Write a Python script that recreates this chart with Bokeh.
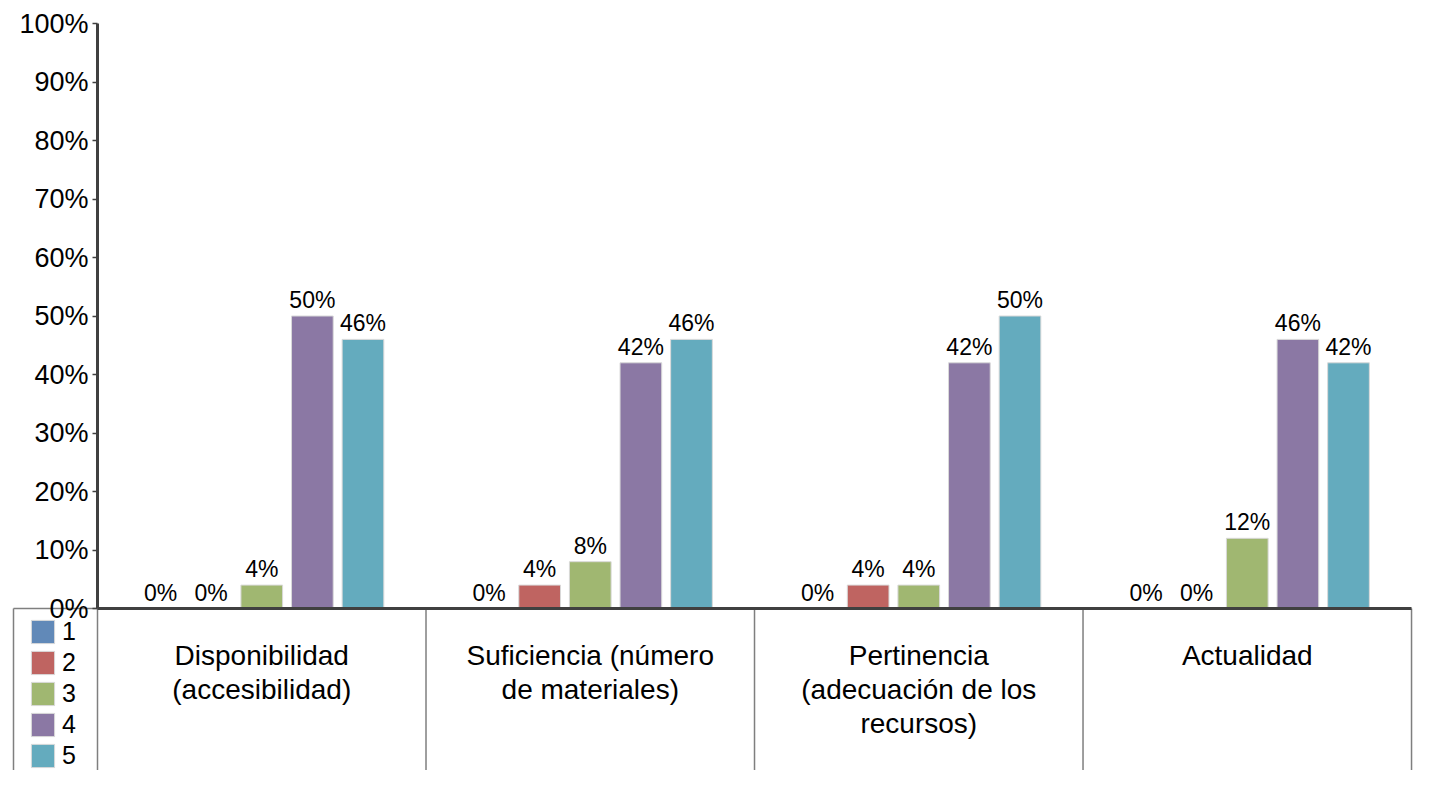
from bokeh.plotting import figure
from bokeh.models import (ColumnDataSource, Range1d, FixedTicker, NumeralTickFormatter,
                          Legend, LegendItem, LinearAxis)
from bokeh.core.properties import value
from bokeh.embed import file_html
from bokeh.resources import INLINE

categories = ["Disponibilidad\n(accesibilidad)",
              "Suficiencia (número\nde materiales)",
              "Pertinencia\n(adecuación de los\nrecursos)",
              "Actualidad"]
series_names = ["1", "2", "3", "4", "5"]
s1 = [0, 0, 0, 0]
s2 = [0, 4, 4, 0]
s3 = [4, 8, 4, 12]
s4 = [50, 42, 42, 46]
s5 = [46, 46, 50, 42]
series_values = [s1, s2, s3, s4, s5]
colors = ["#6189B8", "#BF6461", "#A0B771", "#8B78A4", "#64ABBE"]
y_ticks = [0, 10, 20, 30, 40, 50, 60, 70, 80, 90, 100]

FONT = "Liberation Sans"
W, H = 1413, 770
AX_X = 97          # screen x of the value axis
ZERO_Y = 608       # screen y of 0%
TOP_Y = 23         # screen y of 100%
CAT_W = (W - AX_X) / 4.006   # px per category
PX_Y = ZERO_Y - TOP_Y        # px per 100%

p = figure(width=W, height=H, output_backend="svg", toolbar_location=None,
           title=None, x_axis_location=None, y_axis_location=None,
           x_range=Range1d(-AX_X / CAT_W, (W - AX_X) / CAT_W),
           y_range=Range1d(-(H - ZERO_Y) / PX_Y, 1 + TOP_Y / PX_Y),
           min_border=0, min_border_left=0, min_border_right=0,
           min_border_top=0, min_border_bottom=0)
p.outline_line_color = None
p.xgrid.visible = False
p.ygrid.visible = False
p.background_fill_color = "white"
p.border_fill_color = "white"

step = 51 / 331
bw = 42 / 331
renderers = []
for k, (name, vals, col) in enumerate(zip(series_names, series_values, colors)):
    xs = [i + 0.5 + (k - 2) * step for i in range(len(categories))]
    src = ColumnDataSource(dict(x=xs, top=[v / 100 for v in vals],
                                lbl=[f"{v}%" for v in vals]))
    r = p.vbar(x="x", top="top", bottom=0, width=bw, source=src,
               fill_color=col, line_color="#d9d9d9", line_width=1)
    renderers.append((name, r))
    p.text(x="x", y="top", text="lbl", source=src, text_align="center",
           text_baseline="bottom", y_offset=-3, text_font=value(FONT),
           text_font_size="23px", text_color="black")

# table grid lines
legend_left = -(AX_X - 13) / CAT_W
vx = [legend_left] + list(range(len(categories) + 1))
seps = ColumnDataSource(dict(x=vx))
p.segment(x0="x", x1="x", y0=0, y1=-1, source=seps, line_color="#7f7f7f", line_width=1.5)
p.segment(x0=[legend_left], x1=[0], y0=[0], y1=[0], line_color="#7f7f7f", line_width=1.5)
p.segment(x0=[0], x1=[len(categories)], y0=[0], y1=[0], line_color="#404040", line_width=3)

# category labels
cat_src = ColumnDataSource(dict(x=[i + 0.5 for i in range(len(categories))],
                                y=[-(639 - ZERO_Y) / PX_Y] * len(categories), t=categories))
p.text(x="x", y="y", text="t", source=cat_src, text_align="center", text_baseline="top",
       text_font=value(FONT), text_font_size="28px", text_line_height=1.1, text_color="black")

ax = LinearAxis(fixed_location=0)
ax.bounds = (0, 1)
ax.ticker = FixedTicker(ticks=[t / 100 for t in y_ticks])
ax.formatter = NumeralTickFormatter(format="0%")
ax.minor_tick_line_color = None
ax.major_tick_out = 5
ax.major_tick_in = 0
ax.major_tick_line_color = "#404040"
ax.major_tick_line_width = 1.5
ax.axis_line_color = "#404040"
ax.axis_line_width = 3
ax.major_label_text_font = FONT
ax.major_label_text_font_size = "27px"
ax.major_label_text_color = "black"
ax.major_label_standoff = 4
p.add_layout(ax, "left")

legend = Legend(items=[LegendItem(label=n, renderers=[r]) for n, r in renderers],
                location=(28, 0), orientation="vertical",
                glyph_width=29, glyph_height=29, label_standoff=5,
                label_text_font=FONT, label_text_font_size="25px", label_text_color="black",
                padding=0, spacing=2, margin=0,
                border_line_color=None, background_fill_alpha=0)
p.add_layout(legend, "center")

open("out.html", "w").write(file_html(p, INLINE))
